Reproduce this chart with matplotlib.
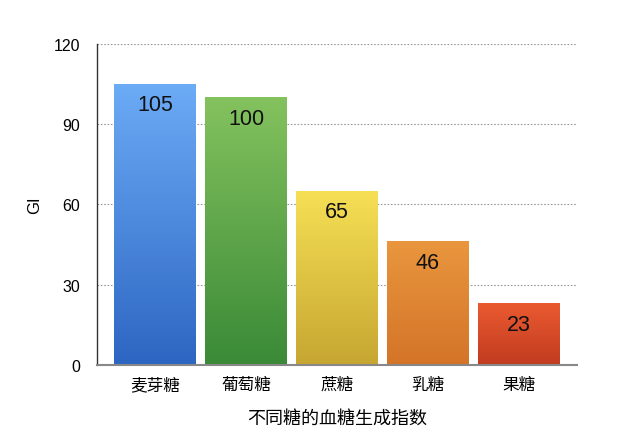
import numpy as np
import matplotlib.pyplot as plt
from matplotlib.colors import LinearSegmentedColormap

plt.rcParams['font.family'] = ['Noto Sans CJK SC', 'DejaVu Sans']

# data
sugars = ['麦芽糖', '葡萄糖', '蔗糖', '乳糖', '果糖']
gi = [105, 100, 65, 46, 23]
top_colors = ['#6cabf6', '#84c25e', '#f6e055', '#e9963e', '#ea5a30']
bottom_colors = ['#2d66c2', '#3a8a37', '#c6a631', '#d47428', '#c13b20']

fig = plt.figure(figsize=(6.4, 4.39), dpi=100)
ax = fig.add_axes([0.1516, 0.1663, 0.75, 0.7312])

x = np.arange(len(sugars))
bars = ax.bar(x, gi, width=0.9, color='none', zorder=2)

grad = np.linspace(0, 1, 256).reshape(-1, 1)
for b, c0, c1, v in zip(bars, bottom_colors, top_colors, gi):
    cmap = LinearSegmentedColormap.from_list('g', [c0, c1])
    x0 = b.get_x()
    ax.imshow(grad, cmap=cmap, origin='lower', aspect='auto',
              extent=[x0, x0 + b.get_width(), 0, b.get_height()], zorder=2)
    ax.text(b.get_x() + b.get_width() / 2, v - 7.8, str(v), ha='center',
            va='center', fontsize=15.5, color='#111111', zorder=3,
            family=['Liberation Sans', 'DejaVu Sans'])

ax.set_xlim(-0.64, 4.64)
ax.set_ylim(0, 120)
ax.set_yticks([0, 30, 60, 90, 120])
ax.set_xticks(x)
ax.set_xticklabels(sugars, fontsize=12)
for lab in ax.get_yticklabels():
    lab.set_family(['Liberation Sans', 'DejaVu Sans'])
ax.tick_params(axis='y', labelsize=11.5, length=0, pad=12)
ax.tick_params(axis='x', length=0, pad=8)
ax.yaxis.grid(True, linestyle=(0, (1.5, 1.5)), color='#999999', linewidth=0.8, zorder=0)
ax.set_axisbelow(True)

for s in ['top', 'right']:
    ax.spines[s].set_visible(False)
ax.spines['left'].set_color('#333333')
ax.spines['left'].set_linewidth(1.0)
ax.spines['bottom'].set_color('#888888')
ax.spines['bottom'].set_linewidth(1.5)

ax.set_xlabel('不同糖的血糖生成指数', fontsize=13, labelpad=12)
ax.set_ylabel('GI', fontsize=12, family=['Liberation Sans', 'DejaVu Sans'])
ax.yaxis.set_label_coords(-0.115, 0.5)

fig.savefig('out.png', dpi=100)
